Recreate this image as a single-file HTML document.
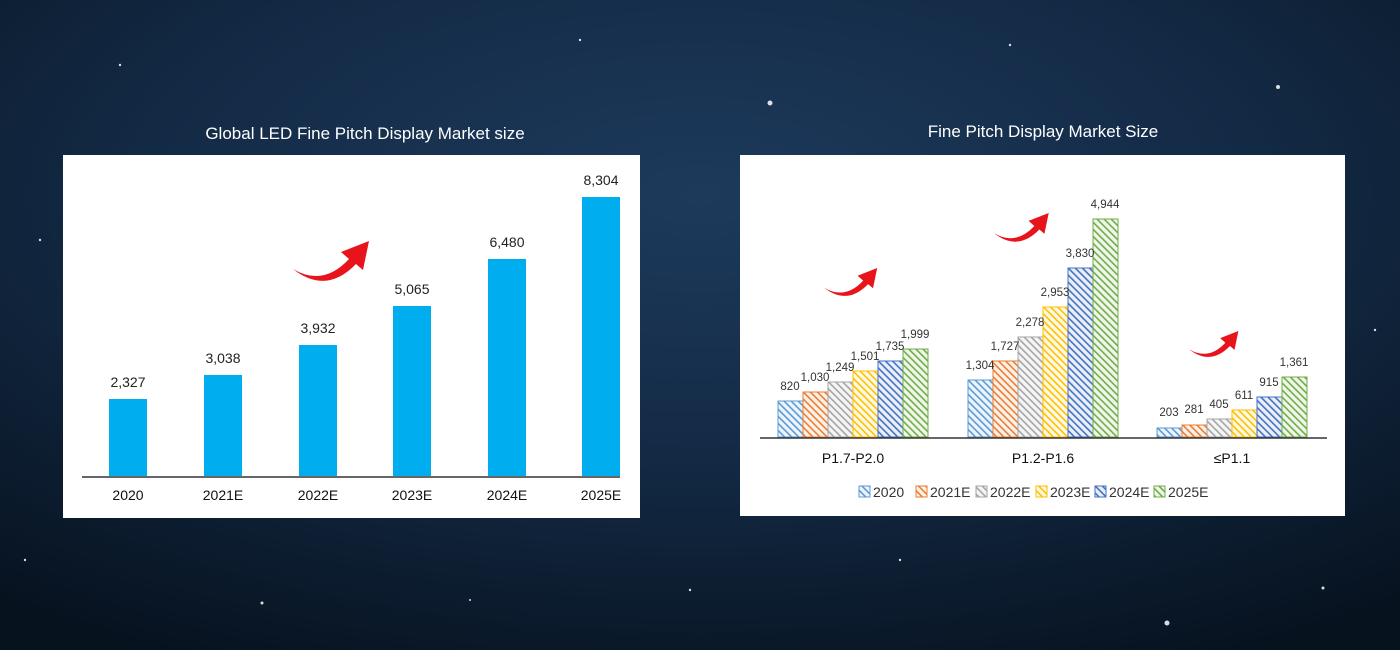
<!DOCTYPE html>
<html><head><meta charset="utf-8"><style>
html,body{margin:0;padding:0;width:1400px;height:650px;overflow:hidden;}
svg{display:block}
text{font-family:"Liberation Sans","DejaVu Sans",sans-serif;}
</style></head><body>
<svg width="1400" height="650" viewBox="0 0 1400 650" xmlns="http://www.w3.org/2000/svg">
<defs>
<radialGradient id="bg" cx="50%" cy="30%" r="80%">
<stop offset="0" stop-color="#1d3a5c"/><stop offset="0.5" stop-color="#132a45"/><stop offset="1" stop-color="#07121f"/>
</radialGradient>
<pattern id="p0" width="5" height="5" patternUnits="userSpaceOnUse" patternTransform="rotate(-45)"><rect width="5" height="5" fill="#eef4fb"/><rect width="1.6" height="5" fill="#5b9bd5"/></pattern>
<pattern id="p1" width="5" height="5" patternUnits="userSpaceOnUse" patternTransform="rotate(-45)"><rect width="5" height="5" fill="#fdf2ea"/><rect width="1.6" height="5" fill="#ed7d31"/></pattern>
<pattern id="p2" width="5" height="5" patternUnits="userSpaceOnUse" patternTransform="rotate(-45)"><rect width="5" height="5" fill="#f5f5f5"/><rect width="1.6" height="5" fill="#a5a5a5"/></pattern>
<pattern id="p3" width="5" height="5" patternUnits="userSpaceOnUse" patternTransform="rotate(-45)"><rect width="5" height="5" fill="#fff9e6"/><rect width="1.6" height="5" fill="#ffc000"/></pattern>
<pattern id="p4" width="5" height="5" patternUnits="userSpaceOnUse" patternTransform="rotate(-45)"><rect width="5" height="5" fill="#eaeff8"/><rect width="1.6" height="5" fill="#4472c4"/></pattern>
<pattern id="p5" width="5" height="5" patternUnits="userSpaceOnUse" patternTransform="rotate(-45)"><rect width="5" height="5" fill="#f0f6ec"/><rect width="1.6" height="5" fill="#70ad47"/></pattern>
<path id="arr" d="M0,28 Q30,46 56,18 L48,11 L76,0 L70,29 L63,23 Q33,54 0,28 Z" fill="#e8141b"/>
</defs>
<rect width="1400" height="650" fill="url(#bg)"/>
<g fill="#fff" opacity="0.85">
<circle cx="770" cy="103" r="2.5"/><circle cx="1278" cy="87" r="2"/><circle cx="1167" cy="623" r="2.5"/><circle cx="1323" cy="588" r="1.5"/><circle cx="262" cy="603" r="1.5"/><circle cx="40" cy="240" r="1.2"/><circle cx="120" cy="65" r="1.2"/><circle cx="580" cy="40" r="1.2"/><circle cx="690" cy="590" r="1.2"/><circle cx="1010" cy="45" r="1.2"/><circle cx="1375" cy="330" r="1.2"/><circle cx="25" cy="560" r="1.2"/><circle cx="470" cy="600" r="1"/><circle cx="900" cy="560" r="1.2"/>
</g>
<text x="365" y="139" fill="#fff" font-size="17" text-anchor="middle">Global LED Fine Pitch Display Market size</text>
<text x="1043" y="137" fill="#fff" font-size="17" text-anchor="middle">Fine Pitch Display Market Size</text>
<rect x="63" y="155" width="577" height="363" fill="#fff"/>
<g fill="#00aeef">
<rect x="109" y="399" width="38" height="77"/><rect x="204" y="375" width="38" height="101"/><rect x="299" y="345" width="38" height="131"/><rect x="393" y="306" width="38" height="170"/><rect x="488" y="259" width="38" height="217"/><rect x="582" y="197" width="38" height="279"/>
</g>
<line x1="82" y1="477" x2="620" y2="477" stroke="#333" stroke-width="1.5"/>
<g font-size="14" fill="#222" text-anchor="middle">
<text x="128" y="387">2,327</text><text x="223" y="363">3,038</text><text x="318" y="333">3,932</text><text x="412" y="294">5,065</text><text x="507" y="247">6,480</text><text x="601" y="185">8,304</text>
</g>
<g font-size="14" fill="#111" text-anchor="middle">
<text x="128" y="500">2020</text><text x="223" y="500">2021E</text><text x="318" y="500">2022E</text><text x="412" y="500">2023E</text><text x="507" y="500">2024E</text><text x="601" y="500">2025E</text>
</g>
<use href="#arr" transform="translate(293,241) scale(1,1)"/>
<rect x="740" y="155" width="605" height="361" fill="#fff"/>
<g stroke-width="1">
<rect x="778" y="401" width="25" height="36" fill="url(#p0)" stroke="#5b9bd5"/>
<rect x="803" y="392" width="25" height="45" fill="url(#p1)" stroke="#ed7d31"/>
<rect x="828" y="382" width="25" height="55" fill="url(#p2)" stroke="#a5a5a5"/>
<rect x="853" y="371" width="25" height="66" fill="url(#p3)" stroke="#ffc000"/>
<rect x="878" y="361" width="25" height="76" fill="url(#p4)" stroke="#4472c4"/>
<rect x="903" y="349" width="25" height="88" fill="url(#p5)" stroke="#70ad47"/>
<rect x="968" y="380" width="25" height="57" fill="url(#p0)" stroke="#5b9bd5"/>
<rect x="993" y="361" width="25" height="76" fill="url(#p1)" stroke="#ed7d31"/>
<rect x="1018" y="337" width="25" height="100" fill="url(#p2)" stroke="#a5a5a5"/>
<rect x="1043" y="307" width="25" height="130" fill="url(#p3)" stroke="#ffc000"/>
<rect x="1068" y="268" width="25" height="169" fill="url(#p4)" stroke="#4472c4"/>
<rect x="1093" y="219" width="25" height="218" fill="url(#p5)" stroke="#70ad47"/>
<rect x="1157" y="428" width="25" height="9" fill="url(#p0)" stroke="#5b9bd5"/>
<rect x="1182" y="425" width="25" height="12" fill="url(#p1)" stroke="#ed7d31"/>
<rect x="1207" y="419" width="25" height="18" fill="url(#p2)" stroke="#a5a5a5"/>
<rect x="1232" y="410" width="25" height="27" fill="url(#p3)" stroke="#ffc000"/>
<rect x="1257" y="397" width="25" height="40" fill="url(#p4)" stroke="#4472c4"/>
<rect x="1282" y="377" width="25" height="60" fill="url(#p5)" stroke="#70ad47"/>
</g>
<line x1="760" y1="438" x2="1327" y2="438" stroke="#333" stroke-width="1.5"/>
<g font-size="11.5" fill="#333" text-anchor="middle">
<text x="790" y="390">820</text><text x="815" y="381">1,030</text><text x="840" y="371">1,249</text><text x="865" y="360">1,501</text><text x="890" y="350">1,735</text><text x="915" y="338">1,999</text>
<text x="980" y="369">1,304</text><text x="1005" y="350">1,727</text><text x="1030" y="326">2,278</text><text x="1055" y="296">2,953</text><text x="1080" y="257">3,830</text><text x="1105" y="208">4,944</text>
<text x="1169" y="416">203</text><text x="1194" y="413">281</text><text x="1219" y="408">405</text><text x="1244" y="399">611</text><text x="1269" y="386">915</text><text x="1294" y="366">1,361</text>
</g>
<g font-size="14" fill="#111" text-anchor="middle">
<text x="853" y="463">P1.7-P2.0</text><text x="1043" y="463">P1.2-P1.6</text><text x="1232" y="463">≤P1.1</text>
</g>
<use href="#arr" transform="translate(824,268) scale(0.7)"/>
<use href="#arr" transform="translate(994,213) scale(0.72)"/>
<use href="#arr" transform="translate(1189,331) scale(0.65)"/>
<g font-size="14" fill="#333">
<rect x="859" y="486" width="11" height="11" fill="url(#p0)" stroke="#5b9bd5"/><text x="873" y="497">2020</text>
<rect x="916" y="486" width="11" height="11" fill="url(#p1)" stroke="#ed7d31"/><text x="930" y="497">2021E</text>
<rect x="976" y="486" width="11" height="11" fill="url(#p2)" stroke="#a5a5a5"/><text x="990" y="497">2022E</text>
<rect x="1036" y="486" width="11" height="11" fill="url(#p3)" stroke="#ffc000"/><text x="1050" y="497">2023E</text>
<rect x="1095" y="486" width="11" height="11" fill="url(#p4)" stroke="#4472c4"/><text x="1109" y="497">2024E</text>
<rect x="1154" y="486" width="11" height="11" fill="url(#p5)" stroke="#70ad47"/><text x="1168" y="497">2025E</text>
</g>
</svg>
</body></html>
